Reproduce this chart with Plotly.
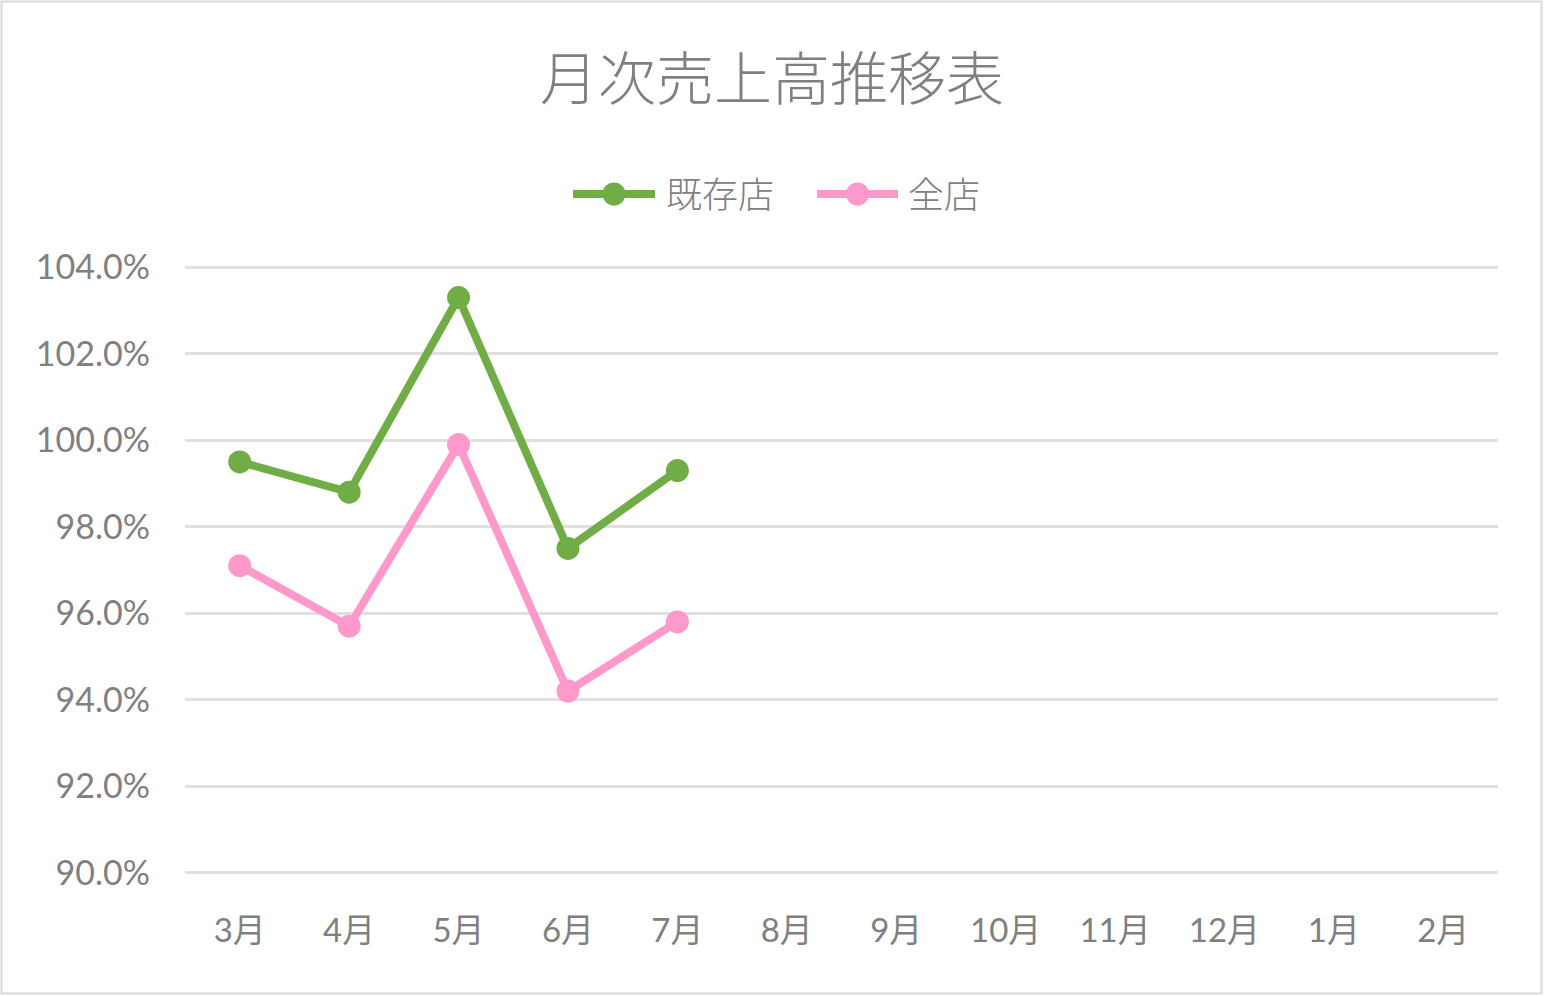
import plotly.graph_objects as go

months = ["3月", "4月", "5月", "6月", "7月", "8月", "9月", "10月", "11月", "12月", "1月", "2月"]
existing_stores = [99.5, 98.8, 103.3, 97.5, 99.3]
all_stores = [97.1, 95.7, 99.9, 94.2, 95.8]
y_ticks = [90, 92, 94, 96, 98, 100, 102, 104]

series = [
    ("既存店", existing_stores, "#70AD47"),
    ("全店", all_stores, "#FF99CC"),
]

text_color = "#808080"
cjk_font = "'Noto Sans CJK JP', sans-serif"
num_font = "Lato, 'Noto Sans CJK JP', sans-serif"

# plot area in pixels (figure is drawn at the page origin)
W, H = 1544, 996
L, R, T, B = 185, 1498, 266, 874
LINE_W, MARK = 8, 23


def px(x):
    return (x - L) / (R - L)


def py(y):
    return (B - y) / (B - T)


fig = go.Figure()

for name, values, color in series:
    fig.add_trace(go.Scatter(
        x=months[:len(values)],
        y=values,
        name=name,
        mode="lines+markers",
        line=dict(color=color, width=LINE_W),
        marker=dict(size=MARK, color=color),
        showlegend=False,
    ))

# hand-made legend, wider symbols than plotly's own
legend_y = py(194)
legend_items = [(573, 655, 664), (817, 898, 906)]
for (name, values, color), (x0, x1, tx) in zip(series, legend_items):
    fig.add_shape(type="line", xref="paper", yref="paper",
                  x0=px(x0), x1=px(x1), y0=legend_y, y1=legend_y,
                  line=dict(color=color, width=LINE_W))
    cx = (x0 + x1) / 2
    r = MARK / 2
    fig.add_shape(type="circle", xref="paper", yref="paper",
                  x0=px(cx - r), x1=px(cx + r),
                  y0=py(194 + r), y1=py(194 - r),
                  line=dict(width=0), fillcolor=color)
    fig.add_annotation(text=name, xref="paper", yref="paper",
                       x=px(tx), y=py(192), xanchor="left", yanchor="middle",
                       showarrow=False,
                       font=dict(size=36, color=text_color, family=cjk_font, weight=300))

fig.update_layout(
    width=W,
    height=H,
    paper_bgcolor="white",
    plot_bgcolor="white",
    margin=dict(l=L, r=W - R, t=T, b=H - B),
    font=dict(family=num_font, color=text_color, size=34),
    title=dict(
        text="月次売上高推移表",
        x=0.5,
        xanchor="center",
        y=1 - 80 / H,
        yanchor="middle",
        font=dict(size=58, color=text_color, family=cjk_font, weight=300),
    ),
    xaxis=dict(
        type="category",
        categoryorder="array",
        categoryarray=months,
        range=[-0.5, 11.5],
        showgrid=False,
        showline=False,
        zeroline=False,
        ticks="",
        ticklabelstandoff=34,
        tickfont=dict(size=33, color=text_color),
    ),
    yaxis=dict(
        range=[89.97, 104.03],
        tickvals=y_ticks,
        ticktext=[f"{v:.1f}%" for v in y_ticks],
        showgrid=True,
        gridcolor="#E0E0E0",
        gridwidth=2.5,
        zeroline=False,
        showline=False,
        ticks="",
        ticklabelstandoff=34,
        tickfont=dict(size=34, color=text_color),
    ),
)

# thin outer frame of the chart
fig.add_shape(
    type="rect", xref="paper", yref="paper",
    x0=px(1.5), x1=px(1541.5), y0=py(993.5), y1=py(1.5),
    line=dict(color="#D9D9D9", width=2),
    fillcolor="rgba(0,0,0,0)",
    layer="below",
)

fig.write_html("out.html", config={"displayModeBar": False},
               post_script="document.body.style.margin='0';")
